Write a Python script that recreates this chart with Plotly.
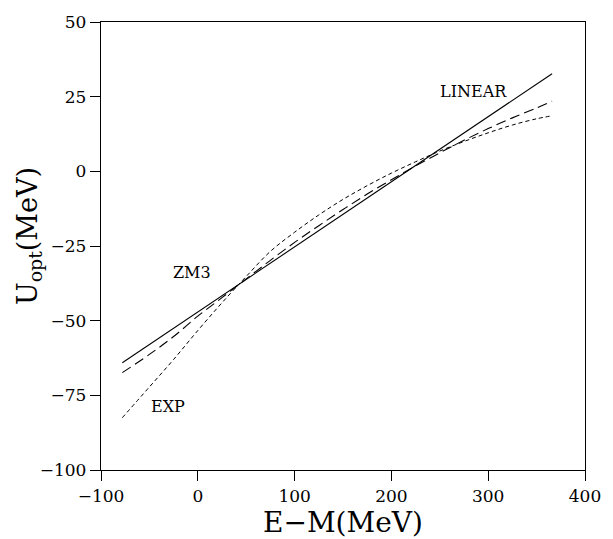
import plotly.graph_objects as go

# Optical potential vs. energy for three parametrisations
energy = [-78, -50, -25, 0, 25, 50, 75, 100, 125, 150, 175, 200,
          225, 250, 275, 300, 325, 350, 366]

u_linear = [-64.1, -58.0, -52.5, -47.1, -41.6, -36.2, -30.8, -25.3,
            -19.9, -14.4, -9.0, -3.5, 1.9, 7.4, 12.8, 18.3, 23.7, 29.2, 32.7]

u_zm3 = [-67.4, -61.3, -55.3, -48.5, -42.3, -36.0, -29.8, -23.8,
         -18.2, -12.8, -7.6, -2.8, 1.8, 6.2, 10.4, 14.3, 17.9, 21.2, 23.5]

u_exp = [-82.5, -72.2, -63.0, -53.3, -44.0, -35.2, -26.8, -20.4,
         -14.6, -9.4, -4.8, -0.6, 3.2, 6.8, 10.0, 12.9, 15.5, 17.6, 18.6]

curve_labels = ["LINEAR", "ZM3", "EXP"]
label_x = [285, -5.5, -31]
label_y = [26.8, -33.9, -78.8]

x_ticks = [-100, 0, 100, 200, 300, 400]
y_ticks = [-100, -75, -50, -25, 0, 25, 50]

FONT = "DejaVu Serif"

fig = go.Figure()
fig.add_trace(go.Scatter(x=energy, y=u_linear, mode="lines",
                         line=dict(color="black", width=1.1), name="LINEAR"))
fig.add_trace(go.Scatter(x=energy, y=u_zm3, mode="lines", line_shape="spline",
                         line=dict(color="black", width=1.1, dash="10px,5px"),
                         name="ZM3"))
fig.add_trace(go.Scatter(x=energy, y=u_exp, mode="lines", line_shape="spline",
                         line=dict(color="black", width=1.0, dash="4px,3px"),
                         name="EXP"))

for txt, lx, ly in zip(curve_labels, label_x, label_y):
    fig.add_annotation(x=lx, y=ly, text=txt, showarrow=False,
                       font=dict(family=FONT, size=16, color="black"))

# y-axis title placed as a rotated annotation
fig.add_annotation(xref="paper", yref="paper", x=-0.149, y=0.522,
                   xanchor="center", yanchor="middle", textangle=-90,
                   text="U<sub>opt</sub>(MeV)", showarrow=False,
                   font=dict(family=FONT, size=27, color="black"))

axis_common = dict(
    showgrid=False, zeroline=False, showline=True, linecolor="black",
    linewidth=1.3, mirror=True, ticks="outside", ticklen=10, tickwidth=1,
    tickcolor="black", tickfont=dict(family=FONT, size=17, color="black"),
    ticklabeloverflow="allow",
)

fig.update_layout(
    width=613, height=539,
    margin=dict(l=101, r=16, t=16, b=60),
    paper_bgcolor="white", plot_bgcolor="white",
    showlegend=False,
    xaxis=dict(range=[-100, 400], tickvals=x_ticks,
               title=dict(text="E\u2212M(MeV)", standoff=2,
                          font=dict(family=FONT, size=28, color="black")),
               **axis_common),
    yaxis=dict(range=[-100, 50], tickvals=y_ticks, **axis_common),
)

fig.write_html("out.html")
